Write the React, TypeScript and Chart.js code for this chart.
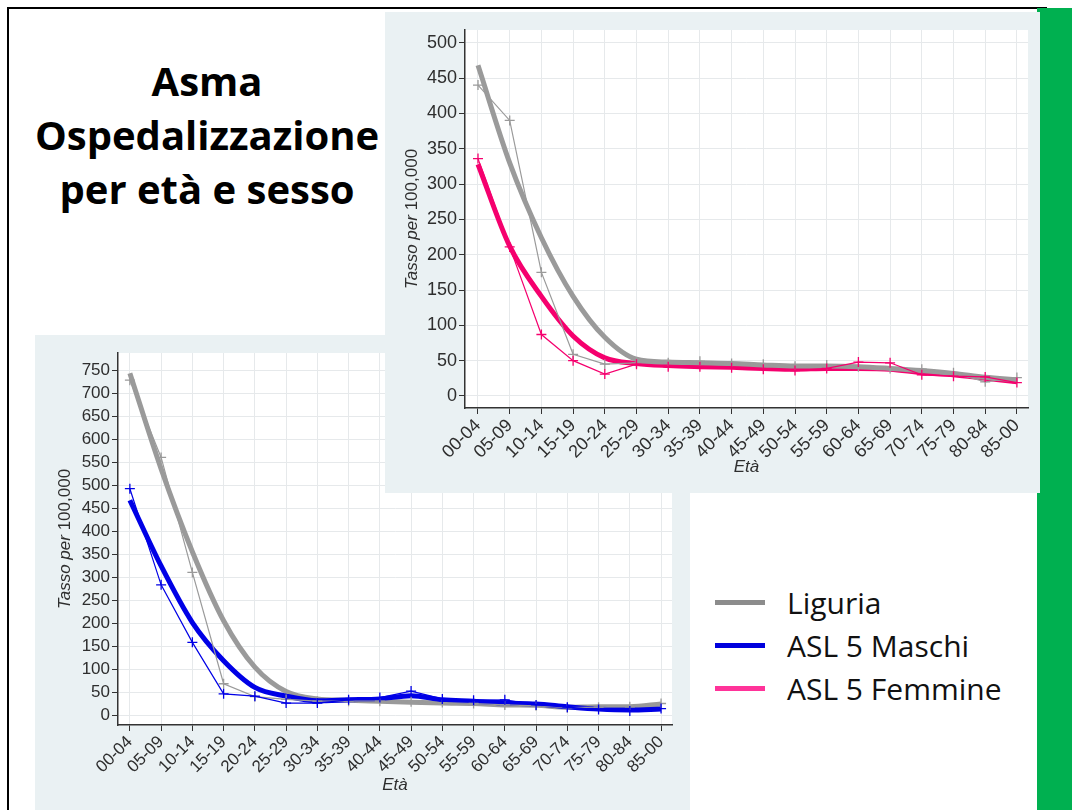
import React, { useEffect, useRef } from "react";
import { Chart, registerables } from "chart.js";
Chart.register(...registerables);

// ---------- DATA ----------
const ageGroups = ["00-04", "05-09", "10-14", "15-19", "20-24", "25-29", "30-34", "35-39", "40-44", "45-49", "50-54", "55-59", "60-64", "65-69", "70-74", "75-79", "80-84", "85-00"];

// Top chart (femmine)
const femLiguriaObs = [440, 390, 175, 59, 45, 47, 47, 49, 46, 45, 42, 44, 41.5, 39, 38, 33, 20, 26];
const femLiguriaFit = [468, 330, 224, 141, 83, 52, 48, 47, 46, 44, 42.5, 42.5, 41.5, 39, 36, 32, 26.5, 23];
const femAslObs = [336, 211, 87, 50, 31, 45, 41.5, 41.5, 40, 38, 36, 39, 48, 47, 30, 28, 27, 19];
const femAslFit = [328, 212, 141, 85, 54, 46, 43, 41.5, 40.5, 39, 38, 39, 39, 38, 33, 30, 25, 20];

// Bottom chart (maschi)
const maleLiguriaObs = [728, 560, 310, 68, 40, 34, 30, 30, 30, 29, 27, 25, 22, 20, 16, 17, 18, 25];
const maleLiguriaFit = [743, 535, 355, 205, 104, 51, 35, 32, 30, 28, 26, 25, 22, 21, 17, 18, 18, 24];
const maleAslObs = [492, 283, 158, 46, 41, 26, 26, 33, 38, 52, 35, 32, 33, 22, 17, 12, 9, 14];
const maleAslFit = [467, 324, 201, 118, 60, 41, 31, 33, 35, 42, 33, 30, 26, 24, 18, 13, 11, 13];

const topYTicks = [0, 50, 100, 150, 200, 250, 300, 350, 400, 450, 500];
const bottomYTicks = [0, 50, 100, 150, 200, 250, 300, 350, 400, 450, 500, 550, 600, 650, 700, 750];

const titleLines = ["Asma", "Ospedalizzazione", "per età e sesso"];
const legendItems = [
  { label: "Liguria", color: "#8c8c8c" },
  { label: "ASL 5 Maschi", color: "#0000dd" },
  { label: "ASL 5 Femmine", color: "#ff3399" },
];

// ---------- STYLE ----------
const GRAY = "#9a9a9a";
const PINK = "#f5006e";
const BLUE = "#0000e6";
const PANEL_BG = "#eaf1f3";
const GRID = "#e6e9eb";
const AXIS = "#333333";
const TICK_TXT = "#2e2e2e";
const FONT = '"Liberation Sans", Arial, sans-serif';

const toPts = (arr: number[]) => arr.map((y, i) => ({ x: i, y }));

const fitDs = (data: number[], color: string, order: number) => ({
  data: toPts(data),
  borderColor: color,
  backgroundColor: color,
  borderWidth: 5,
  pointRadius: 0,
  cubicInterpolationMode: "monotone" as const,
  order,
});
const obsDs = (data: number[], color: string, order: number) => ({
  data: toPts(data),
  borderColor: color,
  backgroundColor: color,
  borderWidth: 1.2,
  pointStyle: "cross" as const,
  pointRadius: 5,
  pointBorderWidth: 1.3,
  pointBorderColor: color,
  order,
});

const decor = {
  id: "decor",
  beforeDraw(chart: any) {
    const { ctx, chartArea: a } = chart;
    ctx.save();
    ctx.fillStyle = "#ffffff";
    ctx.fillRect(a.left, a.top, a.right - a.left, a.bottom - a.top);
    ctx.restore();
  },
  afterDraw(chart: any, _args: any, opts: any) {
    const { ctx, chartArea: a } = chart;
    ctx.save();
    ctx.fillStyle = TICK_TXT;
    ctx.textBaseline = "middle";
    ctx.textAlign = "center";
    ctx.font = `italic ${opts.size}px ${FONT}`;
    ctx.fillText("Età", (a.left + a.right) / 2, a.bottom + opts.xOff);
    // y title
    ctx.translate(a.left - opts.yOff, (a.top + a.bottom) / 2);
    ctx.rotate(-Math.PI / 2);
    const p1 = "Tasso per ";
    const p2 = "100,000";
    ctx.font = `italic ${opts.size}px ${FONT}`;
    const w1 = ctx.measureText(p1).width;
    ctx.font = `${opts.size}px ${FONT}`;
    const w2 = ctx.measureText(p2).width;
    const start = -(w1 + w2) / 2;
    ctx.textAlign = "left";
    ctx.font = `italic ${opts.size}px ${FONT}`;
    ctx.fillText(p1, start, 0);
    ctx.font = `${opts.size}px ${FONT}`;
    ctx.fillText(p2, start + w1, 0);
    ctx.restore();
  },
};

type PanelSpec = {
  width: number;
  height: number;
  datasets: any[];
  yMin: number;
  yMax: number;
  yTicks: number[];
  xMin: number;
  xMax: number;
  yAxisW: number;
  xAxisH: number;
  padTop: number;
  padRight: number;
  fontSize: number;
  xOff: number;
  yOff: number;
};

function ChartPanel({ spec }: { spec: PanelSpec }) {
  const ref = useRef<HTMLCanvasElement | null>(null);
  useEffect(() => {
    if (!ref.current) return;
    const tickFont = { family: FONT, size: spec.fontSize };
    const chart = new Chart(ref.current, {
      type: "line",
      data: { datasets: spec.datasets },
      plugins: [decor],
      options: {
        animation: false,
        responsive: false,
        devicePixelRatio: 1,
        layout: { padding: { left: 0, top: spec.padTop, right: spec.padRight, bottom: 0 } },
        plugins: {
          legend: { display: false },
          tooltip: { enabled: false },
          decor: { size: 17, xOff: spec.xOff, yOff: spec.yOff },
        } as any,
        scales: {
          x: {
            type: "linear",
            min: spec.xMin,
            max: spec.xMax,
            afterBuildTicks: (s: any) => {
              s.ticks = ageGroups.map((_, i) => ({ value: i }));
            },
            afterFit: (s: any) => {
              s.height = spec.xAxisH;
            },
            ticks: {
              autoSkip: false,
              maxRotation: 45,
              minRotation: 45,
              padding: 1,
              color: TICK_TXT,
              font: tickFont,
              callback: (v: any) => ageGroups[Number(v)] ?? "",
            },
            grid: { color: GRID, tickColor: AXIS, tickLength: 6, lineWidth: 1 },
            border: { color: AXIS, width: 1.5 },
          },
          y: {
            type: "linear",
            min: spec.yMin,
            max: spec.yMax,
            afterBuildTicks: (s: any) => {
              s.ticks = spec.yTicks.map((v) => ({ value: v }));
            },
            afterFit: (s: any) => {
              s.width = spec.yAxisW;
            },
            ticks: { color: TICK_TXT, font: tickFont, padding: 2 },
            grid: { color: GRID, tickColor: AXIS, tickLength: 6, lineWidth: 1 },
            border: { color: AXIS, width: 1.5 },
          },
        },
      } as any,
    });
    return () => chart.destroy();
  }, [spec]);
  return <canvas ref={ref} width={spec.width} height={spec.height} style={{ width: spec.width, height: spec.height, display: "block" }} />;
}

const topSpec: PanelSpec = {
  width: 655,
  height: 481,
  datasets: [
    obsDs(femAslObs, PINK, 0),
    obsDs(femLiguriaObs, GRAY, 1),
    fitDs(femLiguriaFit, GRAY, 2),
    fitDs(femAslFit, PINK, 3),
  ],
  yMin: -17,
  yMax: 518,
  yTicks: topYTicks,
  xMin: -0.41,
  xMax: 17.35,
  yAxisW: 80,
  xAxisH: 85,
  padTop: 18,
  padRight: 12,
  fontSize: 18,
  xOff: 59,
  yOff: 53,
};

const bottomSpec: PanelSpec = {
  width: 655,
  height: 475,
  datasets: [
    obsDs(maleAslObs, BLUE, 0),
    obsDs(maleLiguriaObs, GRAY, 1),
    fitDs(maleAslFit, BLUE, 2),
    fitDs(maleLiguriaFit, GRAY, 3),
  ],
  yMin: -21.7,
  yMax: 787,
  yTicks: bottomYTicks,
  xMin: -0.38,
  xMax: 17.35,
  yAxisW: 83,
  xAxisH: 85,
  padTop: 18,
  padRight: 18,
  fontSize: 17,
  xOff: 60,
  yOff: 53,
};

export default function App() {
  return (
    <div style={{ position: "fixed", left: 0, top: 0, width: 1072, height: 810, background: "#fff", overflow: "hidden" }}>
      {/* slide frame */}
      <div style={{ position: "absolute", left: 7, top: 7, width: 1040, height: 810, borderTop: "2.5px solid #000", borderLeft: "2.5px solid #000", boxSizing: "border-box" }} />
      {/* green bar */}
      <div style={{ position: "absolute", left: 1037, top: 8, width: 35, height: 802, background: "#00b050" }} />
      {/* title */}
      <div
        style={{
          position: "absolute",
          left: 7,
          top: 54,
          width: 400,
          textAlign: "center",
          fontFamily: '"Open Sans", sans-serif',
          fontWeight: 700,
          fontSize: 40,
          lineHeight: "54px",
          color: "#000",
        }}
      >
        {titleLines.map((t) => (
          <div key={t}>{t}</div>
        ))}
      </div>
      {/* bottom chart panel */}
      <div style={{ position: "absolute", left: 35, top: 335, width: 655, height: 475, background: PANEL_BG }}>
        <ChartPanel spec={bottomSpec} />
      </div>
      {/* top chart panel */}
      <div style={{ position: "absolute", left: 385, top: 12, width: 655, height: 481, background: PANEL_BG }}>
        <ChartPanel spec={topSpec} />
      </div>
      {/* legend */}
      {legendItems.map((it, i) => (
        <div
          key={it.label}
          style={{ position: "absolute", left: 715, top: 582 + i * 43, height: 40, display: "flex", alignItems: "center" }}
        >
          <div style={{ width: 50, height: 5, background: it.color }} />
          <div style={{ marginLeft: 22, fontFamily: '"Open Sans", sans-serif', fontSize: 30, color: "#111", whiteSpace: "nowrap" }}>{it.label}</div>
        </div>
      ))}
    </div>
  );
}
